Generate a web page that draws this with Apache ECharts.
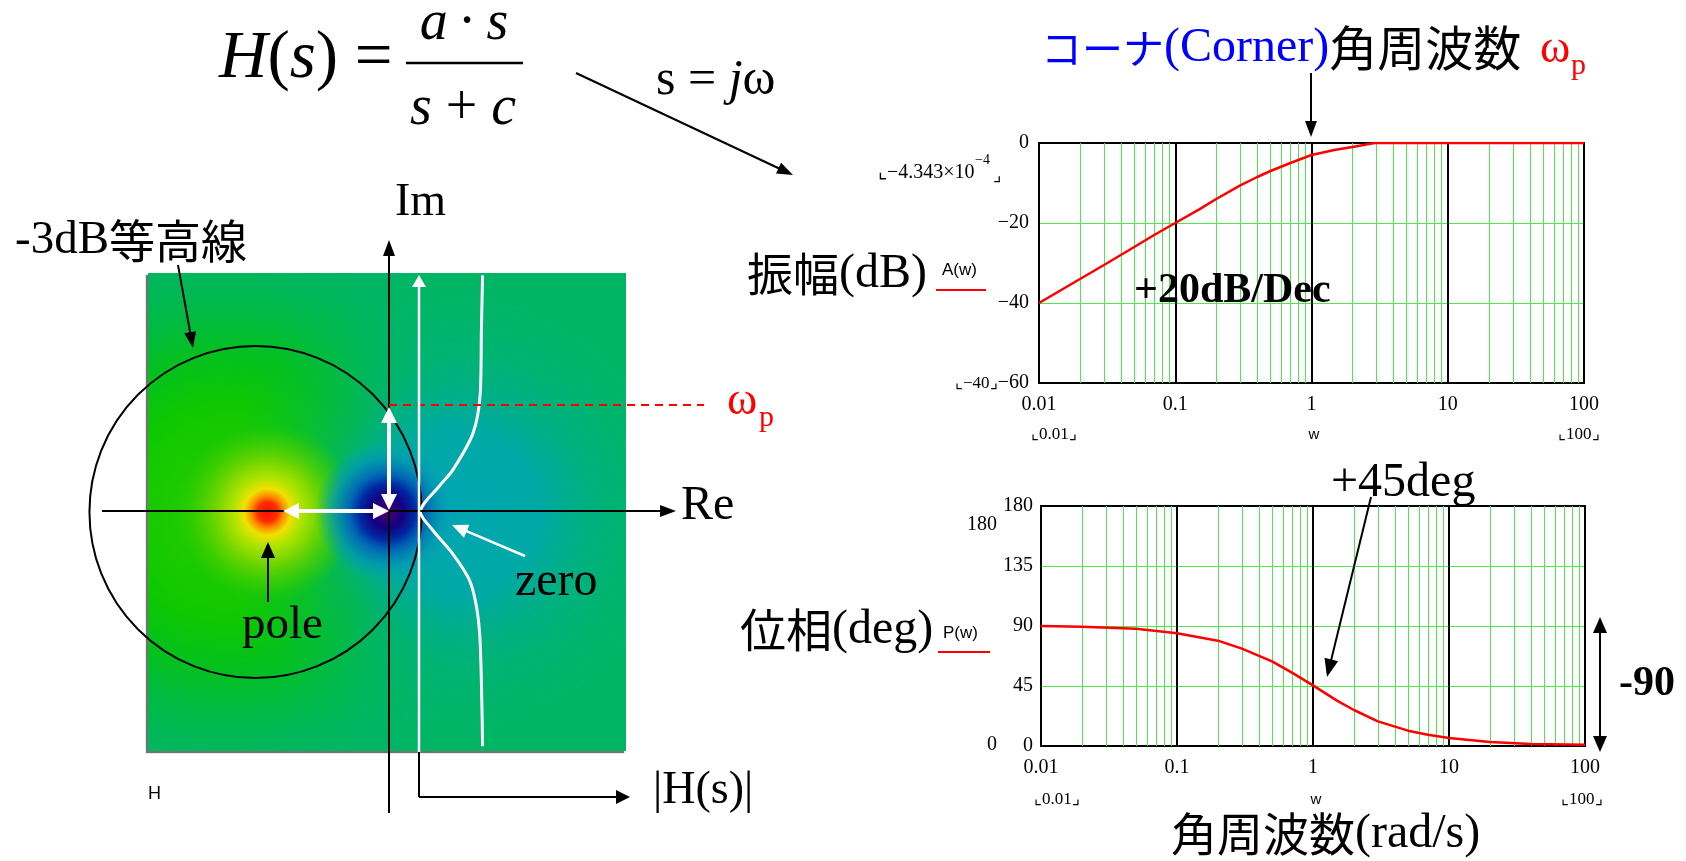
<!DOCTYPE html>
<html>
<head>
<meta charset="utf-8">
<title>H(s) pole-zero / bode</title>
<script src="https://cdn.jsdelivr.net/npm/echarts@6/dist/echarts.min.js"></script>
<style>
  html, body { margin: 0; padding: 0; background: #fff; }
  #chart { width: 1686px; height: 861px; }
</style>
</head>
<body>
<div id="chart"></div>
<script>
// s-plane of H(s) = a*s/(s+c)
var poles = [[-1, 0]]
var zeros = [[0, 0]]
var contourCenter = [-1.1, 0]   // -3dB contour
var contourRadius = 1.39
// |H(jw)| trace next to the jw axis
var traceRe = [0.80, 0.79, 0.78, 0.72, 0.55, 0.44, 0.28, 0.385, 0.55, 0.69, 0.75, 0.78, 0.80]
var traceIm = [1.98, 1.52, 0.99, 0.66, 0.35, 0.22, 0, -0.155, -0.35, -0.57, -0.80, -1.10, -1.96]

// bode plots, w in rad/s
var ampW = [0.01, 0.02, 0.03, 0.05, 0.07, 0.1, 0.15, 0.2, 0.3, 0.4, 0.5, 0.7, 1, 1.5, 2, 2.9, 5, 10, 30, 100]
var ampDb = [-40, -34, -30.5, -26, -23, -20, -16.6, -14, -10.6, -8.5, -7, -5, -3, -1.7, -1, 0, 0, 0, 0, 0]
var phaseW = [0.01, 0.02, 0.05, 0.1, 0.2, 0.3, 0.5, 0.7, 1, 1.5, 2, 3, 5, 7, 10, 20, 40, 100]
var phaseDeg = [90, 89.5, 88, 84.5, 79, 73, 63.5, 55, 45.5, 34, 27, 18.5, 11.5, 8.5, 6, 3, 1.5, 1]
var minorW = [0.02, 0.03, 0.04, 0.05, 0.06, 0.07, 0.08, 0.09,
  0.2, 0.3, 0.4, 0.5, 0.6, 0.7, 0.8, 0.9,
  2, 3, 4, 5, 6, 7, 8, 9,
  20, 30, 40, 50, 60, 70, 80, 90]

var SERIF = '"Liberation Serif", "Times New Roman", serif'
var CJK = '"Noto Sans CJK JP", sans-serif'
var SANS = '"Liberation Sans", Arial, sans-serif'
var GREEN = '#4ce84c'

var myChart = echarts.init(document.getElementById('chart'))

function label(x, y, text, font, color, align) {
  return {
    type: 'text', x: x, y: y, z: 20, silent: true,
    style: { text: text, font: font, fill: color || '#000', align: align || 'left', verticalAlign: 'middle' }
  }
}
function richLabel(x, y, text, rich, align) {
  return {
    type: 'text', x: x, y: y, z: 20, silent: true,
    style: { text: text, rich: rich, font: '40px ' + SERIF, align: align || 'left', verticalAlign: 'middle' }
  }
}
function seg(x1, y1, x2, y2, color, width, dash) {
  return {
    type: 'line', z: 20, silent: true,
    shape: { x1: x1, y1: y1, x2: x2, y2: y2 },
    style: { stroke: color || '#000', lineWidth: width || 2, lineDash: dash || null }
  }
}
function head(x1, y1, x2, y2, len, half, color) {
  var a = Math.atan2(y2 - y1, x2 - x1)
  var bx = x2 - len * Math.cos(a)
  var by = y2 - len * Math.sin(a)
  return {
    type: 'polygon', z: 21, silent: true,
    shape: { points: [[x2, y2], [bx + half * Math.sin(a), by - half * Math.cos(a)], [bx - half * Math.sin(a), by + half * Math.cos(a)]] },
    style: { fill: color || '#000' }
  }
}
// arrow from (x1,y1) to (x2,y2); both = heads on both ends
function arrow(x1, y1, x2, y2, o) {
  o = o || {}
  var len = o.len || 16
  var half = o.half || 6
  var color = o.color || '#000'
  var a = Math.atan2(y2 - y1, x2 - x1)
  var ex = x2 - len * 0.7 * Math.cos(a)
  var ey = y2 - len * 0.7 * Math.sin(a)
  var sx = o.both ? x1 + len * 0.7 * Math.cos(a) : x1
  var sy = o.both ? y1 + len * 0.7 * Math.sin(a) : y1
  var out = [seg(sx, sy, ex, ey, color, o.width || 2), head(x1, y1, x2, y2, len, half, color)]
  if (o.both) out.push(head(x2, y2, x1, y1, len, half, color))
  return out
}

// colour field of |H(s)| : glow + core around pole and zero
function poleGlow(params, api) {
  var c = api.coord([api.value(0), api.value(1)])
  var cs = params.coordSys
  return {
    type: 'rect', shape: { x: cs.x, y: cs.y, width: cs.width, height: cs.height },
    style: { fill: { type: 'radial', x: c[0] - 40, y: c[1], r: 270, global: true, colorStops: [
      { offset: 0, color: 'rgba(45,205,0,1)' },
      { offset: 0.4, color: 'rgba(15,200,0,1)' },
      { offset: 0.6, color: 'rgba(5,195,10,0.75)' },
      { offset: 0.8, color: 'rgba(0,190,40,0.35)' },
      { offset: 1, color: 'rgba(0,186,80,0)' }
    ] } }
  }
}
function zeroGlow(params, api) {
  var c = api.coord([api.value(0), api.value(1)])
  var cs = params.coordSys
  return {
    type: 'rect', shape: { x: cs.x, y: cs.y, width: cs.width, height: cs.height },
    style: { fill: { type: 'radial', x: c[0] + 70, y: c[1], r: 240, global: true, colorStops: [
      { offset: 0, color: 'rgba(0,166,178,1)' },
      { offset: 0.35, color: 'rgba(0,168,172,0.9)' },
      { offset: 0.55, color: 'rgba(0,172,155,0.5)' },
      { offset: 0.8, color: 'rgba(0,178,130,0.2)' },
      { offset: 1, color: 'rgba(0,180,115,0)' }
    ] } }
  }
}
function poleCore(params, api) {
  var c = api.coord([api.value(0), api.value(1)])
  return {
    type: 'circle', shape: { cx: c[0], cy: c[1], r: 90 },
    style: { fill: { type: 'radial', x: 0.5, y: 0.5, r: 0.5, colorStops: [
      { offset: 0, color: 'rgba(255,15,0,1)' },
      { offset: 0.11, color: 'rgba(255,45,0,1)' },
      { offset: 0.17, color: 'rgba(255,130,0,1)' },
      { offset: 0.26, color: 'rgba(240,225,0,1)' },
      { offset: 0.37, color: 'rgba(180,228,0,1)' },
      { offset: 0.55, color: 'rgba(120,215,0,1)' },
      { offset: 0.8, color: 'rgba(70,207,0,0.6)' },
      { offset: 1, color: 'rgba(40,202,0,0)' }
    ] } }
  }
}
function zeroCore(params, api) {
  var c = api.coord([api.value(0), api.value(1)])
  return {
    type: 'circle', shape: { cx: c[0], cy: c[1], r: 72 },
    style: { fill: { type: 'radial', x: 0.5, y: 0.5, r: 0.5, colorStops: [
      { offset: 0, color: 'rgba(80,0,110,1)' },
      { offset: 0.07, color: 'rgba(60,0,120,1)' },
      { offset: 0.22, color: 'rgba(20,0,130,1)' },
      { offset: 0.38, color: 'rgba(0,40,160,1)' },
      { offset: 0.52, color: 'rgba(0,100,180,1)' },
      { offset: 0.75, color: 'rgba(0,150,180,0.75)' },
      { offset: 1, color: 'rgba(0,166,178,0)' }
    ] } }
  }
}
function contour(params, api) {
  var c = api.coord([api.value(0), api.value(1)])
  var r = api.size([api.value(2), 0])[0]
  return { type: 'circle', shape: { cx: c[0], cy: c[1], r: r }, style: { fill: 'none', stroke: '#000', lineWidth: 2 } }
}

function logLabel(v) { return String(+Number(v).toPrecision(6)) }
function signLabel(v) { return v < 0 ? '\u2212' + Math.abs(v) : String(v) }

var labelStyle = { fontFamily: SERIF, fontSize: 20, color: '#000' }

var option = {
  animation: false,
  grid: [
    { left: 148, top: 273, width: 478, height: 478, show: true, backgroundColor: '#00b664', borderWidth: 0,
      shadowColor: 'rgba(0,0,0,0.55)', shadowBlur: 1, shadowOffsetX: -2, shadowOffsetY: 2, outerBoundsMode: 'none' },
    { left: 1039, top: 143, width: 545, height: 240, show: true, borderColor: '#000', borderWidth: 2, outerBoundsMode: 'none' },
    { left: 1041, top: 506, width: 544, height: 240, show: true, borderColor: '#000', borderWidth: 2, outerBoundsMode: 'none' }
  ],
  xAxis: [
    { gridIndex: 0, type: 'value', min: -2, max: 2, show: false },
    { gridIndex: 1, type: 'log', logBase: 10, min: 0.01, max: 100,
      axisLine: { show: false }, axisTick: { show: false },
      axisLabel: Object.assign({ margin: 12, formatter: logLabel, showMinLabel: true, showMaxLabel: true }, labelStyle),
      splitLine: { show: true, lineStyle: { color: '#000', width: 2 } } },
    { gridIndex: 2, type: 'log', logBase: 10, min: 0.01, max: 100,
      axisLine: { show: false }, axisTick: { show: false },
      axisLabel: Object.assign({ margin: 12, formatter: logLabel, showMinLabel: true, showMaxLabel: true }, labelStyle),
      splitLine: { show: true, lineStyle: { color: '#000', width: 2 } } }
  ],
  yAxis: [
    { gridIndex: 0, type: 'value', min: -2, max: 2, show: false },
    { gridIndex: 1, type: 'value', min: -60, max: 0, interval: 20,
      axisLine: { show: false }, axisTick: { show: false },
      axisLabel: Object.assign({ margin: 10, padding: [8, 0, 0, 0], formatter: signLabel }, labelStyle),
      splitLine: { show: true, lineStyle: { color: ['#000', GREEN, GREEN, '#000'], width: 1 } } },
    { gridIndex: 2, type: 'value', min: 0, max: 180, interval: 45,
      axisLine: { show: false }, axisTick: { show: false },
      axisLabel: Object.assign({ margin: 8, padding: [8, 0, 0, 0] }, labelStyle),
      splitLine: { show: true, lineStyle: { color: ['#000', GREEN, GREEN, GREEN, '#000'], width: 1 } } }
  ],
  series: [
    { type: 'custom', xAxisIndex: 0, yAxisIndex: 0, silent: true, z: 1, data: poles, renderItem: poleGlow },
    { type: 'custom', xAxisIndex: 0, yAxisIndex: 0, silent: true, z: 1, data: zeros, renderItem: zeroGlow },
    { type: 'custom', xAxisIndex: 0, yAxisIndex: 0, silent: true, z: 1, data: poles, renderItem: poleCore },
    { type: 'custom', xAxisIndex: 0, yAxisIndex: 0, silent: true, z: 1, data: zeros, renderItem: zeroCore },
    { type: 'custom', xAxisIndex: 0, yAxisIndex: 0, silent: true, z: 3, clip: false,
      data: [[contourCenter[0], contourCenter[1], contourRadius]], renderItem: contour },
    { type: 'line', xAxisIndex: 0, yAxisIndex: 0, silent: true, z: 4, smooth: 0.3, showSymbol: false,
      data: traceRe.map(function (re, i) { return [re, traceIm[i]] }),
      lineStyle: { color: '#fff', width: 3 } },

    // minor decade lines (2..9) of the two bode plots
    { type: 'line', xAxisIndex: 1, yAxisIndex: 1, silent: true, z: 1, showSymbol: false,
      data: ampW.map(function (w, i) { return [w, ampDb[i]] }), lineStyle: { opacity: 0 },
      markLine: { silent: true, symbol: 'none', animation: false, label: { show: false },
        lineStyle: { color: GREEN, width: 1, type: 'solid' },
        data: minorW.map(function (w) { return { xAxis: w } }) } },
    { type: 'line', xAxisIndex: 2, yAxisIndex: 2, silent: true, z: 1, showSymbol: false,
      data: phaseW.map(function (w, i) { return [w, phaseDeg[i]] }), lineStyle: { opacity: 0 },
      markLine: { silent: true, symbol: 'none', animation: false, label: { show: false },
        lineStyle: { color: GREEN, width: 1, type: 'solid' },
        data: minorW.map(function (w) { return { xAxis: w } }) } },

    { name: 'A(w)', type: 'line', xAxisIndex: 1, yAxisIndex: 1, z: 5, showSymbol: false,
      data: ampW.map(function (w, i) { return [w, ampDb[i]] }),
      lineStyle: { color: '#ff0000', width: 2.5 } },
    { name: 'P(w)', type: 'line', xAxisIndex: 2, yAxisIndex: 2, z: 5, showSymbol: false,
      data: phaseW.map(function (w, i) { return [w, phaseDeg[i]] }),
      lineStyle: { color: '#ff0000', width: 2.5 } }
  ],
  graphic: { elements: [].concat(
    // formula
    richLabel(219, 59, '{i|H}{n|(}{i|s}{n|) =}', {
      i: { fontFamily: SERIF, fontSize: 67, fontStyle: 'italic', fill: '#000' },
      n: { fontFamily: SERIF, fontSize: 67, fill: '#000' } }),
    richLabel(464, 24, '{i|a}{sp| }{n|\u00b7}{sp| }{i|s}', {
      i: { fontFamily: SERIF, fontSize: 56, fontStyle: 'italic', fill: '#000' },
      sp: { fontFamily: SERIF, fontSize: 40, fill: '#000' },
      n: { fontFamily: SERIF, fontSize: 56, fill: '#000' } }, 'center'),
    seg(406, 63, 523, 63, '#000', 2.5),
    richLabel(463, 109, '{i|s}{n| + }{i|c}', {
      i: { fontFamily: SERIF, fontSize: 56, fontStyle: 'italic', fill: '#000' },
      n: { fontFamily: SERIF, fontSize: 56, fill: '#000' } }, 'center'),
    arrow(576, 73, 793, 175, { len: 16, half: 6 }),
    richLabel(656, 81, '{n|s = }{i|j}{n|\u03c9}', {
      i: { fontFamily: SERIF, fontSize: 50, fontStyle: 'italic', fill: '#000' },
      n: { fontFamily: SERIF, fontSize: 50, fill: '#000' } }),

    // corner frequency title
    richLabel(1041, 48, '{a|コーナ}{b|(Corner)}{c|角周波数}', {
      a: { fontFamily: CJK, fontSize: 41, fill: '#0000ff' },
      b: { fontFamily: SERIF, fontSize: 48, fill: '#0000ff' },
      c: { fontFamily: CJK, fontSize: 48, fill: '#000' } }),
    label(1540, 50, '\u03c9', '46px ' + SERIF, '#ff0000'),
    label(1571, 66, 'p', '30px ' + SERIF, '#ff0000'),
    arrow(1311, 73, 1311, 137, { len: 16, half: 6 }),

    // amplitude plot texts
    richLabel(747, 274, '{a|振幅}{b|(dB)}', {
      a: { fontFamily: CJK, fontSize: 46, fill: '#000' },
      b: { fontFamily: SERIF, fontSize: 48, fill: '#000' } }),
    label(942, 270, 'A(w)', '17px ' + SANS),
    seg(936, 290, 986, 290, '#ff0000', 2),
    label(878, 173, '\u231e\u22124.343\u00d710', '20px ' + SERIF),
    label(975, 160, '\u22124', '14px ' + SERIF),
    label(993, 176, '\u231f', '18px ' + SERIF),
    label(955, 384, '\u231e\u221240\u231f', '17px ' + SERIF),
    label(1134, 291, '+20dB/Dec', 'bold 42px ' + SERIF),
    label(1031, 435, '\u231e0.01\u231f', '17px ' + SERIF),
    label(1314, 435, 'w', '15px ' + SANS, '#000', 'center'),
    label(1558, 435, '\u231e100\u231f', '17px ' + SERIF),

    // phase plot texts
    richLabel(740, 630, '{a|位相}{b|(deg)}', {
      a: { fontFamily: CJK, fontSize: 46, fill: '#000' },
      b: { fontFamily: SERIF, fontSize: 48, fill: '#000' } }),
    label(943, 633, 'P(w)', '17px ' + SANS),
    seg(938, 652, 990, 652, '#ff0000', 2),
    label(967, 525, '180', '20px ' + SERIF),
    label(987, 745, '0', '20px ' + SERIF),
    label(1034, 800, '\u231e0.01\u231f', '17px ' + SERIF),
    label(1316, 800, 'w', '15px ' + SANS, '#000', 'center'),
    label(1561, 800, '\u231e100\u231f', '17px ' + SERIF),
    label(1331, 483, '+45deg', '48px ' + SERIF),
    arrow(1371, 497, 1327, 677, { len: 18, half: 7 }),
    label(1619, 684, '-90', 'bold 42px ' + SERIF),
    arrow(1600, 617, 1600, 752, { len: 16, half: 7, both: true }),
    richLabel(1171, 834, '{a|角周波数}{b|(rad/s)}', {
      a: { fontFamily: CJK, fontSize: 46, fill: '#000' },
      b: { fontFamily: SERIF, fontSize: 48, fill: '#000' } }),

    // s-plane annotations
    richLabel(15, 241, '{a|-3dB}{b|等高線}', {
      a: { fontFamily: SERIF, fontSize: 47, fill: '#000' },
      b: { fontFamily: CJK, fontSize: 46, fill: '#000' } }),
    arrow(178, 265, 193, 348, { len: 16, half: 6 }),
    label(395, 203, 'Im', '46px ' + SERIF),
    arrow(389, 813, 389, 240, { len: 16, half: 6 }),
    arrow(102, 511, 676, 511, { len: 16, half: 6 }),
    label(681, 506, 'Re', '48px ' + SERIF),
    seg(389, 405, 704, 405, '#ff0000', 2, [8, 6]),
    label(727, 402, '\u03c9', '46px ' + SERIF, '#ff0000'),
    label(759, 418, 'p', '30px ' + SERIF, '#ff0000'),
    arrow(419, 753, 419, 275, { len: 12, half: 7, color: '#fff', width: 2.5 }),
    seg(419, 752, 419, 797, '#000', 2),
    arrow(419, 797, 630, 797, { len: 14, half: 7 }),
    label(653, 791, '|H(s)|', '46px ' + SERIF),
    label(148, 794, 'H', '18px ' + SANS),
    arrow(283, 511, 389, 511, { len: 16, half: 8, color: '#fff', width: 4, both: true }),
    arrow(389, 510, 389, 407, { len: 16, half: 8, color: '#fff', width: 4, both: true }),
    arrow(268, 602, 268, 542, { len: 16, half: 7 }),
    label(242, 626, 'pole', '47px ' + SERIF),
    arrow(525, 556, 452, 525, { len: 16, half: 7, color: '#fff', width: 2.5 }),
    label(515, 582, 'zero', '48px ' + SERIF)
  ) }
}

myChart.setOption(option)
</script>
</body>
</html>
